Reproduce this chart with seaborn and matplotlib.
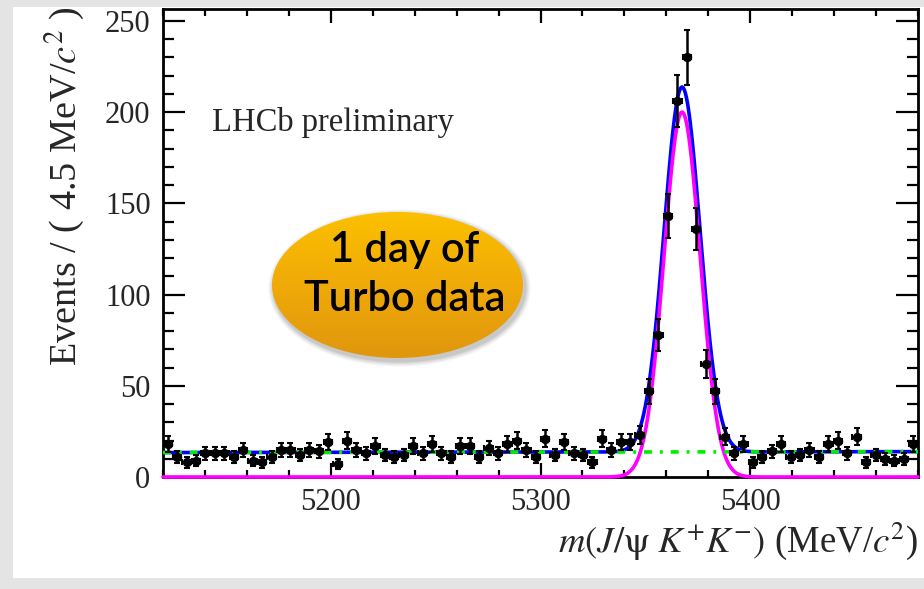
import numpy as np
import pandas as pd
import matplotlib
matplotlib.use("Agg")
import matplotlib.pyplot as plt
import seaborn as sns
from matplotlib.patches import Ellipse, Rectangle
from matplotlib.colors import LinearSegmentedColormap
from matplotlib.ticker import MultipleLocator

# ---------------- data ----------------
bin_low = 5120.0
bin_width = 4.5
counts = [18, 11, 8, 9, 13, 13, 13, 11, 15, 9, 8, 11, 15, 15, 12, 15, 14, 19, 7, 20,
          15, 13, 17, 12, 11, 12,
          17, 13, 18, 13, 11, 17, 17, 11, 16, 13, 18, 20, 15, 11, 21, 12, 19, 13, 12, 8,
          21, 15, 19, 19, 23,
          47, 78, 143, 206, 230, 136, 62, 47,
          22, 13, 18, 8, 11, 14, 18, 11, 12, 15, 11, 18, 20, 13, 22, 8, 12, 10, 9, 10, 18]

# fit model parameters (per-bin units)
sig_mean = 5367.5
sig_sigma = 8.6
sig_peak = 200.0
bkg_left = 13.4
bkg_right = 13.9

x_ticks = [5200, 5300, 5400]
y_ticks = [0, 50, 100, 150, 200, 250]

# ---------------- build frames ----------------
centers = bin_low + bin_width * (np.arange(len(counts)) + 0.5)
df = pd.DataFrame({"mass": centers, "events": counts})
df["err"] = np.sqrt(df["events"])

xs = np.linspace(bin_low, bin_low + bin_width * len(counts), 1500)
bkg = bkg_left + (bkg_right - bkg_left) * (xs - xs[0]) / (xs[-1] - xs[0])
sig = sig_peak * np.exp(-0.5 * ((xs - sig_mean) / sig_sigma) ** 2)
curves = pd.DataFrame({"mass": xs, "bkg": bkg, "sig": sig, "tot": bkg + sig})

# ---------------- style ----------------
sns.set_theme(style="ticks")
plt.rcParams["font.family"] = ["Liberation Serif", "DejaVu Serif"]
plt.rcParams["mathtext.fontset"] = "stix"

W, H = 924, 589
fig = plt.figure(figsize=(W / 100, H / 100), dpi=100)
fig.patch.set_facecolor("#e4e4e4")
fig.patches.append(Rectangle((13 / W, 11 / H), 1 - 13 / W, 1 - 7 / H - 11 / H,
                             transform=fig.transFigure, facecolor="white",
                             edgecolor="none", zorder=-10))

ax = fig.add_axes([163 / W, 1 - 477 / H, (918 - 163) / W, (477 - 9) / H])
ax.set_facecolor("white")

# fit curves
sns.lineplot(data=curves, x="mass", y="tot", ax=ax, color="#0000ff", lw=2.6, zorder=3)
sns.lineplot(data=curves, x="mass", y="sig", ax=ax, color="#ff00ff", lw=2.6, zorder=4,
             clip_on=False)
sns.lineplot(data=curves, x="mass", y="bkg", ax=ax, color="#00ee00", lw=2.6, zorder=5,
             dashes=False, linestyle=(0, (2.2, 2.2, 0.8, 2.2)))

# data points
ax.errorbar(df["mass"], df["events"], yerr=df["err"], xerr=2.0, fmt="none",
            ecolor="black", elinewidth=1.8, capsize=2.4, capthick=1.5, zorder=6)
sns.scatterplot(data=df, x="mass", y="events", ax=ax, color="black", s=46,
                marker="o", edgecolor="black", linewidth=0, zorder=7)

ax.set_xlim(bin_low, bin_low + bin_width * len(counts))
ax.set_ylim(0, 256.5)
ax.set_xticks(x_ticks)
ax.set_yticks(y_ticks)
ax.xaxis.set_minor_locator(MultipleLocator(20))
ax.yaxis.set_minor_locator(MultipleLocator(10))
ax.tick_params(which="both", direction="in", top=True, right=True, color="black",
               width=1.6, labelsize=22)
ax.tick_params(axis="x", which="major", length=10, pad=8)
ax.tick_params(axis="x", which="minor", length=5)
ax.tick_params(axis="y", which="major", length=16, pad=9)
ax.tick_params(axis="y", which="minor", length=8)
for s in ax.spines.values():
    s.set_linewidth(2.0)
    s.set_color("black")
ax.set_xlabel("")
ax.set_ylabel("")

fig.text(918 / W, 1 - 541 / H, r"$m(J/\mathrm{\psi}\ K^{+}K^{-})$ (MeV/$c^{2}$)",
         ha="right", va="center", fontsize=26.5)
fig.text(64 / W, 1 - 186 / H, r"Events / ( 4.5 MeV/$c^{2}$ )", rotation=90,
         ha="center", va="center", fontsize=27.5)

ax.text(212 / W, 1 - 122 / H, "LHCb preliminary", transform=fig.transFigure,
        ha="left", va="center", fontsize=23.5)

# orange ellipse badge
ex0, ey0, ew, eh = 272, 212, 251, 146
sax = fig.add_axes([(ex0 + 2) / W, 1 - (ey0 + eh + 3) / H, ew / W, eh / H])
sax.axis("off")
sax.set_xlim(0, 1)
sax.set_ylim(0, 1)
for k, a in enumerate([0.04, 0.05, 0.06, 0.08]):
    g = 0.045 - 0.011 * k
    sax.add_patch(Ellipse((0.5, 0.5), 1 + g, 1 + g * 1.7, facecolor="black",
                          edgecolor="none", alpha=a, clip_on=False))

eax = fig.add_axes([ex0 / W, 1 - (ey0 + eh) / H, ew / W, eh / H])
eax.axis("off")
eax.set_xlim(0, 1)
eax.set_ylim(0, 1)
cmap = LinearSegmentedColormap.from_list("badge", ["#e0960e", "#f0aa08", "#fcc000"])
grad = np.linspace(0, 1, 256).reshape(-1, 1)
im = eax.imshow(grad, extent=[0, 1, 0, 1], origin="lower", cmap=cmap, aspect="auto")
clip = Ellipse((0.5, 0.5), 1, 1, transform=eax.transData, facecolor="none",
               edgecolor="none")
eax.add_patch(clip)
im.set_clip_path(clip)

fig.text(405 / W, 1 - 250 / H, "1 day of", ha="center", va="center", fontsize=30,
         family=["Lato", "DejaVu Sans"], weight="semibold", color="black", zorder=20)
fig.text(405 / W, 1 - 299 / H, "Turbo data", ha="center", va="center", fontsize=30,
         family=["Lato", "DejaVu Sans"], weight="semibold", color="black", zorder=20)

fig.savefig("out.png", dpi=100, facecolor=fig.get_facecolor())
